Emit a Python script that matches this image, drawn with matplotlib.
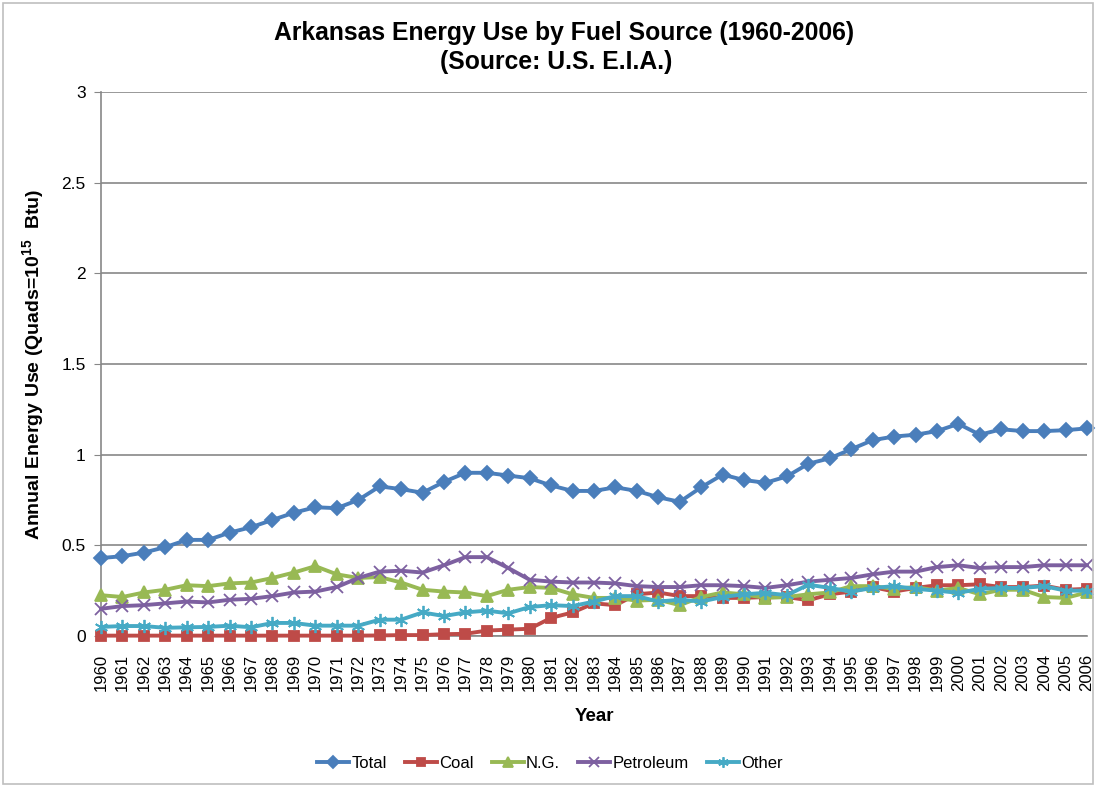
import matplotlib
matplotlib.use("Agg")
import matplotlib.pyplot as plt
from matplotlib.patches import Rectangle

plt.rcParams['font.family'] = ['Liberation Sans', 'DejaVu Sans']
plt.rcParams['mathtext.fontset'] = 'custom'
plt.rcParams['mathtext.rm'] = 'Liberation Sans'
plt.rcParams['mathtext.bf'] = 'Liberation Sans:bold'

# data (quads)
years = list(range(1960, 2007))

total = [0.43, 0.44, 0.46, 0.49, 0.53, 0.53, 0.57, 0.60, 0.64, 0.68,
         0.71, 0.705, 0.75, 0.825, 0.81, 0.79, 0.85, 0.90, 0.90, 0.885,
         0.87, 0.83, 0.80, 0.80, 0.82, 0.80, 0.765, 0.74, 0.82, 0.89,
         0.86, 0.845, 0.88, 0.95, 0.98, 1.03, 1.08, 1.10, 1.11, 1.13,
         1.17, 1.11, 1.14, 1.13, 1.13, 1.135, 1.145]

coal = [0.002, 0.002, 0.002, 0.002, 0.002, 0.002, 0.002, 0.002, 0.002, 0.002,
        0.002, 0.002, 0.002, 0.003, 0.005, 0.005, 0.01, 0.012, 0.03, 0.035,
        0.04, 0.10, 0.13, 0.18, 0.17, 0.23, 0.24, 0.22, 0.22, 0.21,
        0.21, 0.215, 0.215, 0.197, 0.23, 0.245, 0.27, 0.245, 0.265, 0.28,
        0.28, 0.285, 0.27, 0.27, 0.278, 0.255, 0.26]

ng = [0.225, 0.215, 0.24, 0.255, 0.28, 0.275, 0.29, 0.295, 0.32, 0.35,
      0.385, 0.34, 0.32, 0.325, 0.295, 0.255, 0.245, 0.24, 0.22, 0.255,
      0.27, 0.265, 0.23, 0.21, 0.21, 0.195, 0.20, 0.17, 0.215, 0.24,
      0.23, 0.21, 0.215, 0.23, 0.24, 0.275, 0.275, 0.26, 0.27, 0.25,
      0.265, 0.23, 0.255, 0.255, 0.215, 0.21, 0.24]

petroleum = [0.15, 0.165, 0.17, 0.18, 0.19, 0.185, 0.20, 0.205, 0.22, 0.24,
             0.245, 0.27, 0.32, 0.355, 0.36, 0.35, 0.39, 0.435, 0.435, 0.375,
             0.31, 0.30, 0.295, 0.295, 0.29, 0.275, 0.27, 0.27, 0.28, 0.28,
             0.275, 0.265, 0.28, 0.30, 0.31, 0.32, 0.34, 0.355, 0.355, 0.38,
             0.39, 0.375, 0.38, 0.38, 0.39, 0.39, 0.39]

other = [0.05, 0.055, 0.055, 0.045, 0.048, 0.05, 0.057, 0.048, 0.072, 0.072,
         0.057, 0.057, 0.057, 0.09, 0.09, 0.13, 0.11, 0.13, 0.14, 0.125,
         0.16, 0.17, 0.165, 0.19, 0.22, 0.22, 0.19, 0.20, 0.19, 0.215,
         0.23, 0.238, 0.225, 0.283, 0.265, 0.245, 0.265, 0.275, 0.26, 0.25,
         0.238, 0.26, 0.265, 0.265, 0.275, 0.25, 0.25]

series = [
    ("Total", total, "#4A7EBB", "D", 7.5),
    ("Coal", coal, "#BE4B48", "s", 7.5),
    ("N.G.", ng, "#98B954", "^", 8.5),
    ("Petroleum", petroleum, "#7D60A0", "x", 8.5),
    ("Other", other, "#46AAC5", (6, 2, 0), 9.5),
]

fig = plt.figure(figsize=(10.99, 7.86), dpi=100)
ax = fig.add_axes([101 / 1099, 1 - 636 / 786, 986 / 1099, 544 / 786])

for name, vals, col, mk, ms in series:
    ax.plot(years, vals, color=col, lw=2.8, marker=mk, ms=ms,
            mec=col, mfc=col, mew=1.3, label=name, clip_on=False, zorder=3)

ax.set_xlim(1960, 2006)
ax.set_ylim(0, 3)
ax.set_yticks([0, 0.5, 1, 1.5, 2, 2.5, 3])
ax.set_yticklabels(["0", "0.5", "1", "1.5", "2", "2.5", "3"])
ax.set_xticks(years)
ax.set_xticklabels([str(y) for y in years], rotation=90)
ax.set_xticks(range(1960, 2007, 10), minor=True)

ax.grid(axis='y', which='major', color='#878787', lw=1.2)
ax.grid(axis='x', which='minor', color='#878787', lw=1.2)
ax.tick_params(axis='x', which='both', length=0, labelsize=12, pad=13)
ax.tick_params(axis='y', length=5, color='#878787', labelsize=12.5, pad=6)
ax.set_axisbelow(True)

for s in ['top', 'right']:
    ax.spines[s].set_visible(False)
for s in ['left', 'bottom']:
    ax.spines[s].set_color('#878787')
    ax.spines[s].set_linewidth(1.2)

ax.set_xlabel("Year", fontsize=13.5, fontweight='bold', va='top')
ax.xaxis.set_label_coords(0.5, -(708 - 636) / 544)
ax.set_ylabel(r"Annual Energy Use (Quads=10$^{\mathbf{15}}$  Btu)",
              fontsize=14, fontweight='bold')
ax.yaxis.set_label_coords(-(101 - 47) / 986, 0.5)

fig.text(564 / 1099, 1 - 33 / 786, "Arkansas Energy Use by Fuel Source (1960-2006)",
         ha='center', va='center', fontsize=17.8, fontweight='bold')
fig.text(556 / 1099, 1 - 62 / 786, "(Source: U.S. E.I.A.)",
         ha='center', va='center', fontsize=17.8, fontweight='bold')

fig.legend(loc='center', bbox_to_anchor=(550 / 1099, 1 - 763 / 786), ncol=5,
           frameon=False, fontsize=12, handlelength=1.9, columnspacing=1.1,
           handletextpad=0.15, markerscale=0.8)

fig.patches.append(Rectangle((3 / 1099, 2 / 786), 1090 / 1099, 781 / 786,
                             transform=fig.transFigure, fill=False,
                             edgecolor='#BFBFBF', lw=1.2))

fig.savefig("out.png", dpi=100)
